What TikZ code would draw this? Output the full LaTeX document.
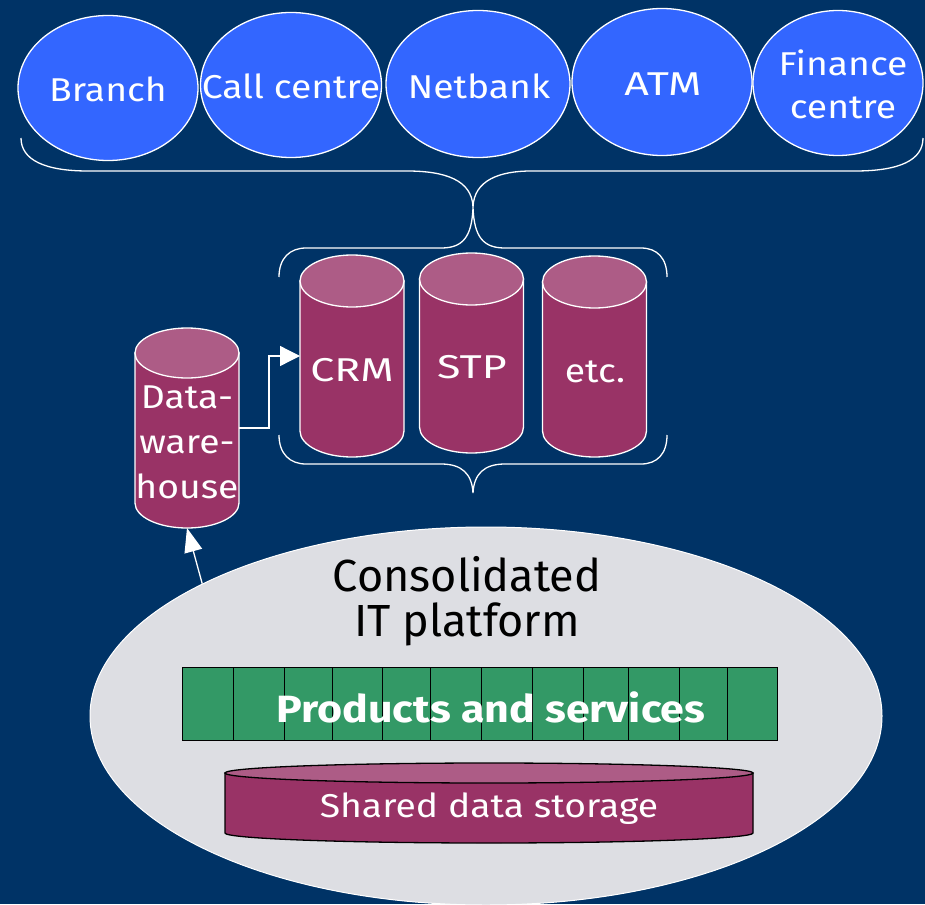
\documentclass[tikz,border=0pt]{standalone}
\usepackage{fontspec}
\setmainfont{Fira Sans}
\newfontfamily\sw[FakeStretch=1.13]{Fira Sans}
\newfontfamily\swc[FakeStretch=1.3]{Fira Sans}
\usetikzlibrary{shapes.geometric,arrows.meta}
\definecolor{bg}{HTML}{003366}
\definecolor{chan}{HTML}{3366FF}
\definecolor{cylbody}{HTML}{993366}
\definecolor{cyltop}{HTML}{AD5C86}
\definecolor{plat}{HTML}{DDDEE3}
\definecolor{prod}{HTML}{339966}
\newcommand{\drawcyl}[6]{%
  \filldraw[draw=#6, fill=cylbody, line width=1.3pt] (#1-#4,#2) -- (#1-#4,#3) arc[start angle=180,end angle=0,x radius=#4,y radius=#5] -- (#1+#4,#2) -- cycle;
  \filldraw[draw=#6, fill=cyltop, line width=1.3pt] (#1,#2) ellipse[x radius=#4,y radius=#5];
}
\begin{document}
\begin{tikzpicture}[x=1pt,y=-1pt,
  chanbox/.style={ellipse, draw=white, line width=1.3pt, fill=chan, inner sep=0pt},
  chantext/.style={text=white, font=\sw\fontsize{33}{43}\selectfont, align=center, inner sep=0pt},
  cylarea/.style={inner sep=0pt, outer sep=0pt, draw=none},
  cyltext/.style={text=white, font=\sw\fontsize{33}{45}\selectfont, align=center, inner sep=0pt},
  bracestyle/.style={draw=white, line width=1.3pt},
  conn/.style={draw=white, line width=1.3pt}
]
\fill[bg] (0,0) rectangle (925,904);
\useasboundingbox (0,0) rectangle (925,904);

% channels
\node[chanbox, minimum width=180, minimum height=145] (branch) at (108,88) {};
\node[chanbox, minimum width=181, minimum height=145] (call) at (291,85) {};
\node[chanbox, minimum width=184, minimum height=147] (net) at (478,84) {};
\node[chanbox, minimum width=180, minimum height=147] (atm) at (662,82) {};
\node[chanbox, minimum width=170, minimum height=145] (fin) at (838,83) {};
\node[chantext] (brancht) at (108,89) {Branch};
\node[chantext] (callt) at (291,86) {Call centre};
\node[chantext] (nett) at (479,86) {Netbank};
\node[chantext, font=\swc\fontsize{33}{43}\selectfont] (atmt) at (663,84) {ATM};
\node[chantext] (fint) at (843,84) {Finance\\centre};

% top brace (pointing down)
\draw[bracestyle] (21,138) .. controls (21,160) and (45,171) .. (88,171) -- (407,171)
   .. controls (445,171) and (472,180) .. (473,207)
   .. controls (474,180) and (500,171) .. (531,171) -- (855,171)
   .. controls (900,171) and (923,160) .. (923,138);

% brace above cylinders (pointing up)
\draw[bracestyle] (279,277) .. controls (279,258) and (290,248) .. (306,248) -- (441,248)
   .. controls (462,248) and (472,238) .. (473,207)
   .. controls (474,238) and (484,248) .. (505,248) -- (641,248)
   .. controls (657,248) and (667,258) .. (667,277);

% brace below cylinders (pointing down)
\draw[bracestyle] (279,435) .. controls (279,454) and (290,464) .. (306,464) -- (441,464)
   .. controls (462,464) and (472,474) .. (473,493)
   .. controls (474,474) and (484,464) .. (505,464) -- (641,464)
   .. controls (657,464) and (667,454) .. (667,435);

% cylinders
\drawcyl{352}{281}{431}{52}{26}{white}
\drawcyl{471.5}{279}{427}{52}{26}{white}
\drawcyl{594.5}{282}{431}{52}{26}{white}
\drawcyl{187}{353}{503}{52}{25}{white}

\node[cylarea, minimum width=104, minimum height=202] (crm) at (352,356) {};
\node[cylarea, minimum width=104, minimum height=200] (stp) at (471.5,353) {};
\node[cylarea, minimum width=104, minimum height=201] (etc) at (594.5,356.5) {};
\node[cylarea, minimum width=104, minimum height=200] (dw) at (187,428) {};

\node[cyltext, font=\swc\fontsize{33}{45}\selectfont] (crmt) at (352,370) {CRM};
\node[cyltext, font=\swc\fontsize{33}{45}\selectfont] (stpt) at (472,367) {STP};
\node[cyltext] (etct) at (595,372) {etc.};
\node[cyltext, font=\sw\fontsize{33}{45}\selectfont] (dwt) at (187,442) {Data-\\ware-\\house};

% platform
\node[ellipse, fill=plat, draw=white, line width=1pt, minimum width=792, minimum height=378, inner sep=0pt] (platform) at (486,716) {};
\node[font=\fontsize{45}{45}\selectfont, align=center, text=black, inner sep=0pt] (cons) at (467,601) {Consolidated\\IT platform};

\node[draw=black, fill=prod, line width=0.8pt, minimum width=595, minimum height=73, inner sep=0pt] (prod) at (479.5,703.5) {};
\foreach \xx in {233,284,332,382,430,481,532,583,628,679,727}
  \draw[black, line width=0.8pt] (\xx,667) -- (\xx,740);
\node[text=white, font=\sw\bfseries\fontsize{38}{38}\selectfont, inner sep=0pt] (prodt) at (491,707) {Products and services};

\drawcyl{489}{773}{833}{264}{10}{black}
\node[cylarea, minimum width=528, minimum height=80] (shared) at (489,803) {};
\node[text=white, font=\sw\fontsize{33}{38}\selectfont, inner sep=0pt] (sharedt) at (489,809) {Shared data storage};

% connectors
\draw[conn, -{Triangle[width=20pt,length=20pt,fill=white]}] (dw.east) -- ++(30,0) |- (crm.west);
\draw[conn, -{Triangle[width=18pt,length=24pt,fill=white]}] (platform.155) -- (dw.south);
\end{tikzpicture}
\end{document}
